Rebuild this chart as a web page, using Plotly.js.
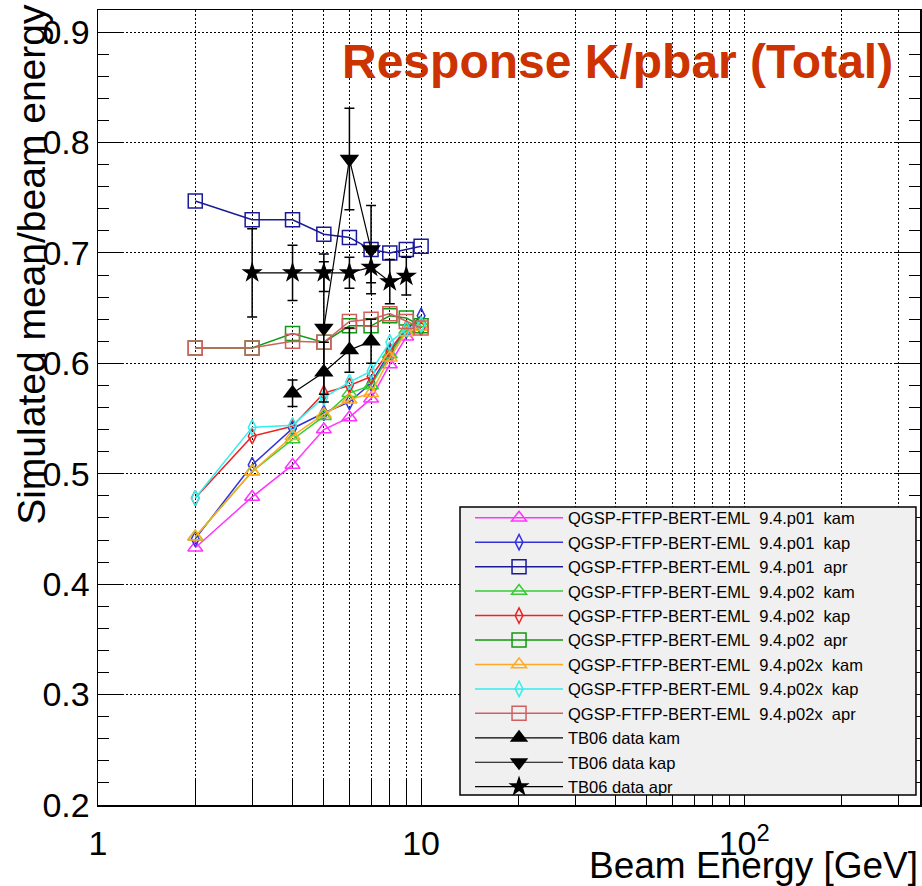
<!DOCTYPE html>
<html>
<head>
<meta charset="utf-8">
<script src="https://cdn.plot.ly/plotly-3.0.1.min.js"></script>
<style>html,body{margin:0;padding:0;background:#fff;}#chart{width:922px;height:886px;}</style>
</head>
<body>
<div id="chart"></div>
<script>
// ---- data ----
const energies = [2, 3, 4, 5, 6, 7, 8, 9, 10];
const p01_kam  = [0.433, 0.479, 0.508, 0.540, 0.551, 0.568, 0.599, 0.624, 0.633];
const p01_kap  = [0.441, 0.508, 0.541, 0.555, 0.565, 0.582, 0.610, 0.630, 0.643];
const p01_apr  = [0.747, 0.730, 0.730, 0.717, 0.714, 0.703, 0.700, 0.703, 0.706];
const p02_kam  = [0.443, 0.502, 0.531, 0.552, 0.573, 0.580, 0.608, 0.630, 0.636];
const p02_kap  = [0.478, 0.534, 0.543, 0.573, 0.580, 0.588, 0.612, 0.632, 0.632];
const p02_apr  = [0.614, 0.614, 0.627, 0.619, 0.634, 0.634, 0.643, 0.641, 0.634];
const p02x_kam = [0.443, 0.502, 0.534, 0.554, 0.567, 0.573, 0.605, 0.628, 0.633];
const p02x_kap = [0.478, 0.542, 0.544, 0.569, 0.583, 0.593, 0.619, 0.631, 0.635];
const p02x_apr = [0.614, 0.614, 0.620, 0.619, 0.638, 0.640, 0.645, 0.638, 0.632];

const tb_kam_E = [4, 5, 6, 7];
const tb_kam   = [0.573, 0.592, 0.612, 0.620];
const tb_kam_err = [0.012, 0.027, 0.020, 0.020];
const tb_kap_E = [5, 6, 7];
const tb_kap   = [0.632, 0.785, 0.703];
const tb_kap_err = [0.060, 0.046, 0.040];
const tb_apr_E = [3, 4, 5, 6, 7, 8, 9];
const tb_apr   = [0.682, 0.682, 0.682, 0.682, 0.687, 0.674, 0.679];
const tb_apr_err = [0.040, 0.025, 0.017, 0.014, 0.014, 0.020, 0.017];

const xTickVals = [1,2,3,4,5,6,7,8,9,10,20,30,40,50,60,70,80,90,100,200,300];
const xTickText = ['1','','','','','','','','','10','','','','','','','','','10<sup>2</sup>','',''];

const sp = '\u00a0\u00a0';
const names = [
  'QGSP-FTFP-BERT-EML' + sp + '9.4.p01' + sp + 'kam',
  'QGSP-FTFP-BERT-EML' + sp + '9.4.p01' + sp + 'kap',
  'QGSP-FTFP-BERT-EML' + sp + '9.4.p01' + sp + 'apr',
  'QGSP-FTFP-BERT-EML' + sp + '9.4.p02' + sp + 'kam',
  'QGSP-FTFP-BERT-EML' + sp + '9.4.p02' + sp + 'kap',
  'QGSP-FTFP-BERT-EML' + sp + '9.4.p02' + sp + 'apr',
  'QGSP-FTFP-BERT-EML' + sp + '9.4.p02x' + sp + 'kam',
  'QGSP-FTFP-BERT-EML' + sp + '9.4.p02x' + sp + 'kap',
  'QGSP-FTFP-BERT-EML' + sp + '9.4.p02x' + sp + 'apr',
  'TB06 data kam', 'TB06 data kap', 'TB06 data apr'
];

function sim(y, name, color, symbol, size) {
  return {
    x: energies, y: y, name: name, type: 'scatter', mode: 'lines+markers',
    line: {color: color, width: 1.5},
    marker: {symbol: symbol, size: size, color: color, line: {color: color, width: 1.5}}
  };
}
function tb(x, y, err, name, symbol, size) {
  return {
    x: x, y: y, name: name, type: 'scatter', mode: 'lines+markers',
    line: {color: '#000', width: 1.2},
    marker: {symbol: symbol, size: size, color: '#000'},
    error_y: {type: 'data', array: err, visible: true, color: '#000', thickness: 1.5, width: 5}
  };
}

const traces = [
  sim(p01_kam,  names[0], '#ff33ff', 'triangle-up-open', 13),
  sim(p01_kap,  names[1], '#3333dd', 'diamond-tall-open', 11),
  sim(p01_apr,  names[2], '#1a1a99', 'square-open', 14),
  sim(p02_kam,  names[3], '#33cc33', 'triangle-up-open', 13),
  sim(p02_kap,  names[4], '#ee2222', 'diamond-tall-open', 11),
  sim(p02_apr,  names[5], '#119911', 'square-open', 14),
  sim(p02x_kam, names[6], '#ffaa22', 'triangle-up-open', 13),
  sim(p02x_kap, names[7], '#33eeee', 'diamond-tall-open', 11),
  sim(p02x_apr, names[8], '#d06060', 'square-open', 14),
  tb(tb_kam_E, tb_kam, tb_kam_err, names[9],  'triangle-up', 17),
  tb(tb_kap_E, tb_kap, tb_kap_err, names[10], 'triangle-down', 17),
  tb(tb_apr_E, tb_apr, tb_apr_err, names[11], 'star', 16)
];

const font = 'Liberation Sans, Arial, Helvetica, sans-serif';
const layout = {
  width: 922, height: 886,
  margin: {l: 98, r: 2, t: 10, b: 81},
  paper_bgcolor: '#fff', plot_bgcolor: '#fff',
  font: {family: font, color: '#000'},
  showlegend: true,
  legend: {
    x: 0.4526, y: 0.383, xanchor: 'left', yanchor: 'top',
    bgcolor: 'rgba(0,0,0,0)', borderwidth: 0,
    font: {family: font, size: 16.5, color: '#000'},
    itemwidth: 88, tracegroupgap: 0
  },
  shapes: [
    {type: 'rect', xref: 'paper', yref: 'paper', layer: 'above',
     x0: 0.4404, x1: 0.9951, y0: 0.0126, y1: 0.3748,
     fillcolor: '#f0f0f0', line: {color: '#000', width: 1.5}}
  ],
  xaxis: {
    type: 'log', range: [0, Math.log10(350)],
    tickvals: xTickVals, ticktext: xTickText,
    ticks: 'inside', ticklen: 25, tickwidth: 1, tickcolor: '#000',
    showgrid: true, gridcolor: '#000', gridwidth: 1, griddash: '2px,2px',
    showline: true, linecolor: '#000', linewidth: 1.5, mirror: true,
    zeroline: false, tickfont: {family: font, size: 34, color: '#000'},
    ticklabelstandoff: 8
  },
  yaxis: {
    range: [0.2, 0.92], tick0: 0.2, dtick: 0.1, tickformat: '.1f',
    ticks: 'inside', ticklen: 26, tickwidth: 1, tickcolor: '#000',
    minor: {dtick: 0.02, ticks: 'inside', ticklen: 11, tickcolor: '#000', showgrid: false},
    showgrid: true, gridcolor: '#000', gridwidth: 1, griddash: '2px,2px',
    showline: true, linecolor: '#000', linewidth: 1.5, mirror: 'ticks',
    zeroline: false, tickfont: {family: font, size: 34, color: '#000'},
    ticklabelstandoff: 0
  },
  annotations: [
    {text: '<b>Response K/pbar (Total)</b>', xref: 'paper', yref: 'paper',
     x: 0.632, y: 0.9346, xanchor: 'center', yanchor: 'middle', showarrow: false,
     font: {family: font, size: 48, color: '#cc3300'}},
    {text: 'Simulated mean/beam energy', xref: 'paper', yref: 'paper',
     x: -0.081, y: 0.68, xanchor: 'center', yanchor: 'middle', showarrow: false, textangle: -90,
     font: {family: font, size: 39, color: '#000'}},
    {text: 'Beam Energy [GeV]', xref: 'paper', yref: 'paper',
     x: 1.0, y: -0.0765, xanchor: 'right', yanchor: 'middle', showarrow: false,
     font: {family: font, size: 37, color: '#000'}}
  ]
};

Plotly.newPlot('chart', traces, layout, {displayModeBar: false, staticPlot: true});
</script>
</body>
</html>
